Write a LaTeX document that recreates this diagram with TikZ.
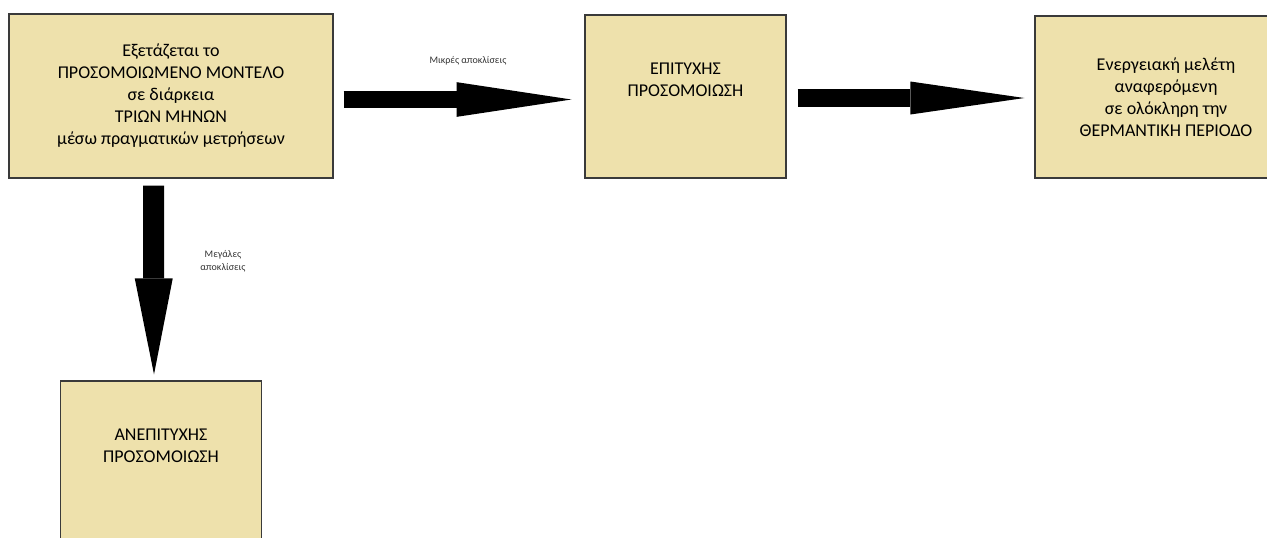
\documentclass[tikz,border=0pt]{standalone}
\usepackage{fontspec}
\setmainfont{Carlito}
\usetikzlibrary{arrows.meta}

\definecolor{boxfill}{HTML}{EEE1AC}
\definecolor{boxline}{HTML}{3A3A3A}

\begin{document}
\begin{tikzpicture}[
    x=0.75pt, y=-0.75pt,
    box/.style={rectangle, draw=boxline, line width=0.9pt, fill=boxfill, inner sep=0pt},
    boxtext/.style={align=center, inner sep=0pt, font=\fontsize{13.5}{16.5}\selectfont},
    note/.style={align=center, text=black!80, font=\fontsize{7.5}{10}\selectfont},
    bigarrow/.style={line width=12.75pt, -{Triangle[length=86pt, width=26pt, line width=0pt]}}
]
\clip (0,0) rectangle (1267,537);

% Boxes
\node[box, boxtext, minimum width=243pt, minimum height=123pt] (model) at (171,96)
    {Εξετάζεται το\\ΠΡΟΣΟΜΟΙΩΜΕΝΟ ΜΟΝΤΕΛΟ\\σε διάρκεια\\ΤΡΙΩΝ ΜΗΝΩΝ\\μέσω πραγματικών μετρήσεων};
\node[box, minimum width=150.75pt, minimum height=122.25pt] (succ) at (685.5,96.5) {};
\node[box, boxtext, minimum width=196.5pt, minimum height=121.5pt] (energy) at (1166,97)
    {Ενεργειακή μελέτη\\αναφερόμενη\\σε ολόκληρη την\\ΘΕΡΜΑΝΤΙΚΗ ΠΕΡΙΟΔΟ};
\node[box, minimum width=150.75pt, minimum height=122.25pt] (fail) at (161,462.5) {};

% Texts near the top of the two result boxes
\node[boxtext, anchor=north] (succtxt) at ([yshift=-36pt]succ.north) {ΕΠΙΤΥΧΗΣ\\ΠΡΟΣΟΜΟΙΩΣΗ};
\node[boxtext, anchor=north] (failtxt) at ([yshift=-36pt]fail.north) {ΑΝΕΠΙΤΥΧΗΣ\\ΠΡΟΣΟΜΟΙΩΣΗ};

% Arrows
\draw[bigarrow] ([shift={(10,3.5)}]model.east) -- ([shift={(-13,3)}]succ.west);
\draw[bigarrow, line width=13.5pt, -{Triangle[length=85.5pt, width=24.75pt, line width=0pt]}]
    ([shift={(11,1.5)}]succ.east) -- ([shift={(-10,1)}]energy.west);
\draw[bigarrow, line width=15.75pt, -{Triangle[length=72pt, width=28.5pt, line width=0pt]}]
    ([shift={(-17.5,7)}]model.south) -- ([shift={(-7,-6)}]fail.north);

% Labels
\node[note] (smalldev) at (468,61) {Μικρές αποκλίσεις};
\node[note] (bigdev) at (223,261) {Μεγάλες\\αποκλίσεις};

\end{tikzpicture}
\end{document}
